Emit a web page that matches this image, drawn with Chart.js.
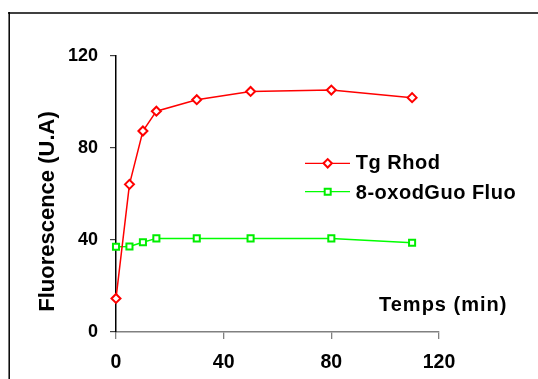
<!DOCTYPE html>
<html>
<head>
<meta charset="utf-8">
<script src="https://cdn.jsdelivr.net/npm/chart.js@4/dist/chart.umd.min.js"></script>
<style>
html,body{margin:0;padding:0;background:#fff;}
canvas{display:block;}
</style>
</head>
<body>
<canvas id="c" width="538" height="379"></canvas>
<script>
const times = [0, 5, 10, 15, 30, 50, 80, 110];
const tgRhod = [14.6, 64.2, 87.4, 96, 101, 104.6, 105.2, 101.9];
const oxoFluo = [37.1, 37.2, 39, 40.7, 40.7, 40.7, 40.7, 38.8];
const seriesLabels = ['Tg Rhod', '8-oxodGuo Fluo'];
const xTitle = 'Temps (min)';
const yTitle = 'Fluorescence (U.A)';
const xTicks = [0, 40, 80, 120];
const yTicks = [0, 40, 80, 120];

const FONT = '"Liberation Sans", Arial, sans-serif';

const decorPlugin = {
  id: 'decor',
  beforeDraw(chart) {
    const ctx = chart.ctx;
    ctx.save();
    ctx.fillStyle = '#fff';
    ctx.fillRect(0, 0, chart.width, chart.height);
    ctx.strokeStyle = '#404040';
    ctx.lineWidth = 2;
    ctx.beginPath(); ctx.moveTo(8, 13); ctx.lineTo(538, 13); ctx.stroke();
    ctx.strokeStyle = '#000';
    ctx.lineWidth = 1.5;
    ctx.beginPath(); ctx.moveTo(9.2, 12); ctx.lineTo(9.2, 379); ctx.stroke();
    ctx.restore();
  },
  afterDraw(chart) {
    const ctx = chart.ctx;
    ctx.save();
    ctx.fillStyle = '#000';
    ctx.font = 'bold 22px ' + FONT;
    ctx.textAlign = 'center';
    ctx.textBaseline = 'alphabetic';
    ctx.translate(54.2, 211.5);
    ctx.rotate(-Math.PI / 2);
    ctx.fillText(yTitle, 0, 0);
    ctx.restore();

    ctx.save();
    ctx.fillStyle = '#000';
    ctx.font = 'bold 20px ' + FONT;
    ctx.letterSpacing = '1px';
    ctx.textAlign = 'left';
    ctx.textBaseline = 'alphabetic';
    ctx.fillText(xTitle, 379, 310.7);
    ctx.restore();

    const items = [
      {y: 163.3, base: 169.3},
      {y: 191.7, base: 198.7}
    ];
    chart.data.datasets.forEach((ds, i) => {
      const it = items[i];
      ctx.save();
      ctx.strokeStyle = ds.borderColor;
      ctx.lineWidth = 1.2;
      ctx.beginPath(); ctx.moveTo(305, it.y); ctx.lineTo(350, it.y); ctx.stroke();
      ctx.fillStyle = '#fff';
      ctx.lineWidth = 2;
      ctx.strokeStyle = ds.pointBorderColor;
      ctx.beginPath();
      if (ds.pointStyle === 'rectRot') {
        const r = 4.2;
        ctx.moveTo(327.7 - r, it.y); ctx.lineTo(327.7, it.y - r);
        ctx.lineTo(327.7 + r, it.y); ctx.lineTo(327.7, it.y + r); ctx.closePath();
      } else {
        ctx.rect(327.7 - 3, it.y - 3, 6, 6);
      }
      ctx.fill(); ctx.stroke();
      ctx.fillStyle = '#000';
      ctx.font = 'bold 20px ' + FONT;
      ctx.letterSpacing = '0.5px';
      ctx.textBaseline = 'alphabetic';
      ctx.fillText(ds.label, 355.8, it.base);
      ctx.restore();
    });
  }
};

new Chart(document.getElementById('c'), {
  type: 'line',
  data: {
    datasets: [
      {
        label: seriesLabels[0],
        data: times.map((t, i) => ({x: t, y: tgRhod[i]})),
        borderColor: '#ff0000',
        borderWidth: 1.5,
        pointStyle: 'rectRot',
        pointRadius: 4.5,
        pointBorderWidth: 2,
        pointBorderColor: '#ff0000',
        pointBackgroundColor: '#ffffff',
        tension: 0,
        clip: false
      },
      {
        label: seriesLabels[1],
        data: times.map((t, i) => ({x: t, y: oxoFluo[i]})),
        borderColor: '#00ff00',
        borderWidth: 1.5,
        pointStyle: 'rect',
        pointRadius: 4.3,
        pointBorderWidth: 2,
        pointBorderColor: '#00ee00',
        pointBackgroundColor: '#ffffff',
        tension: 0,
        clip: false
      }
    ]
  },
  options: {
    responsive: false,
    animation: false,
    devicePixelRatio: 1,
    layout: {padding: {left: 0, top: 56, right: 99, bottom: 0}},
    plugins: {legend: {display: false}, tooltip: {enabled: false}},
    scales: {
      x: {
        type: 'linear',
        min: xTicks[0],
        max: xTicks[xTicks.length - 1],
        afterBuildTicks(scale) { scale.ticks = xTicks.map(v => ({value: v})); },
        afterFit(scale) { scale.height = 47; },
        ticks: {color: '#000', font: {family: FONT, size: 19.5, weight: 'bold'}, padding: 12, maxRotation: 0},
        grid: {drawOnChartArea: false, drawTicks: true, tickLength: 7, color: '#808080', lineWidth: 1.3},
        border: {color: '#808080', width: 1.5}
      },
      y: {
        min: yTicks[0],
        max: yTicks[yTicks.length - 1],
        afterBuildTicks(scale) { scale.ticks = yTicks.map(v => ({value: v})); },
        afterFit(scale) { scale.width = 116; },
        ticks: {color: '#000', font: {family: FONT, size: 18, weight: 'bold'}, padding: 12},
        grid: {drawOnChartArea: false, drawTicks: true, tickLength: 6, color: '#404040', lineWidth: 1.2},
        border: {color: '#000', width: 1.5}
      }
    }
  },
  plugins: [decorPlugin]
});
</script>
</body>
</html>
